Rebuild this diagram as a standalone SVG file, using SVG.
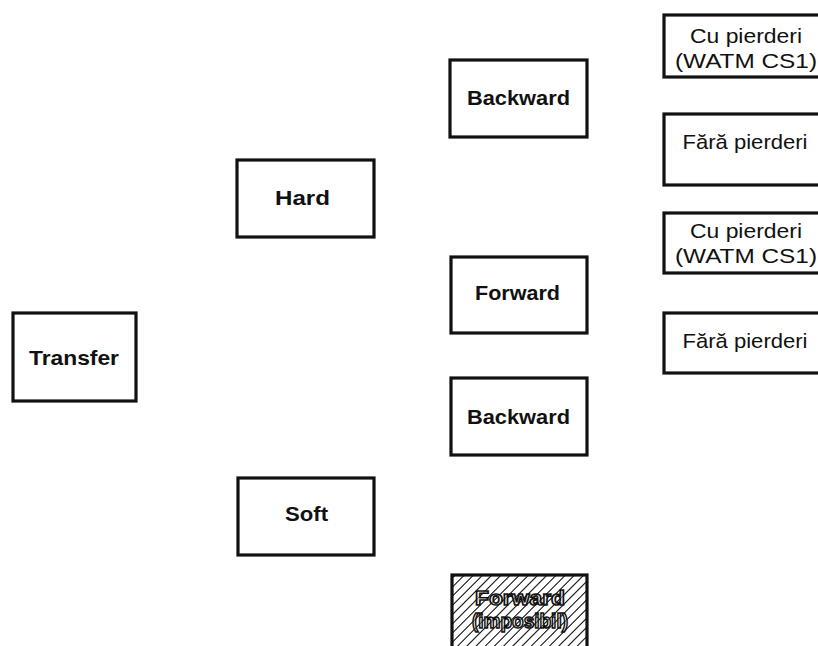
<svg xmlns="http://www.w3.org/2000/svg" width="818" height="646" viewBox="0 0 818 646">
  <defs>
    <pattern id="hatch" patternUnits="userSpaceOnUse" width="6.5" height="6.5" patternTransform="rotate(45)">
      <rect width="6.5" height="6.5" fill="#fff"/>
      <line x1="0" y1="0" x2="0" y2="6.5" stroke="#111" stroke-width="1.6"/>
    </pattern>
    <pattern id="hatch-over" patternUnits="userSpaceOnUse" width="6.5" height="6.5" patternTransform="rotate(45)">
      <line x1="0" y1="0" x2="0" y2="6.5" stroke="#111" stroke-width="1.2"/>
    </pattern>
  </defs>
  <style>
    .box { fill: #fff; stroke: #111; stroke-width: 3.2; }
    .lbl { font-family: "Liberation Sans", Arial, sans-serif; font-weight: bold; font-size: 21px; fill: #111; text-anchor: middle; }
    .leaf { font-family: "Liberation Sans", Arial, sans-serif; font-size: 21px; fill: #111; text-anchor: middle; }
    .hatched { fill: url(#hatch); stroke: #111; stroke-width: 3.2; }
    .ghost { font-family: "Liberation Sans", Arial, sans-serif; font-weight: bold; font-size: 21px; fill: #fff; stroke: #111; stroke-width: 1.6; text-anchor: middle; }
  </style>
  <rect width="818" height="646" fill="#fff"/>

  <g id="transfer">
    <rect class="box" x="13" y="313" width="123" height="88"/>
    <text class="lbl" x="74" y="365" textLength="90" lengthAdjust="spacingAndGlyphs">Transfer</text>
  </g>

  <g id="hard">
    <rect class="box" x="237" y="160" width="137" height="77"/>
    <text class="lbl" x="302.5" y="205" textLength="55" lengthAdjust="spacingAndGlyphs">Hard</text>
  </g>

  <g id="soft">
    <rect class="box" x="238" y="478" width="136" height="77"/>
    <text class="lbl" x="306.5" y="521" textLength="43" lengthAdjust="spacingAndGlyphs">Soft</text>
  </g>

  <g id="hard-backward">
    <rect class="box" x="450" y="60" width="137" height="77"/>
    <text class="lbl" x="518.5" y="105" textLength="103" lengthAdjust="spacingAndGlyphs">Backward</text>
  </g>

  <g id="hard-forward">
    <rect class="box" x="451" y="257" width="136" height="76"/>
    <text class="lbl" x="517.5" y="300" textLength="85" lengthAdjust="spacingAndGlyphs">Forward</text>
  </g>

  <g id="soft-backward">
    <rect class="box" x="451" y="378" width="136" height="77"/>
    <text class="lbl" x="518.5" y="424" textLength="103" lengthAdjust="spacingAndGlyphs">Backward</text>
  </g>

  <g id="soft-forward">
    <rect class="hatched" x="452" y="575" width="135" height="80"/>
    <text class="ghost" x="520" y="605" textLength="90" lengthAdjust="spacingAndGlyphs">Forward</text>
    <text class="ghost" x="520" y="628" textLength="96" lengthAdjust="spacingAndGlyphs">(imposibil)</text>
    <rect x="452" y="575" width="135" height="80" fill="url(#hatch-over)"/>
  </g>

  <g id="backward-lossy">
    <rect class="box" x="664" y="15" width="170" height="62"/>
    <text class="leaf" x="746" y="43" textLength="112" lengthAdjust="spacingAndGlyphs">Cu pierderi</text>
    <text class="leaf" x="746" y="68" textLength="142" lengthAdjust="spacingAndGlyphs">(WATM CS1)</text>
  </g>

  <g id="backward-lossless">
    <rect class="box" x="664" y="114" width="170" height="71"/>
    <text class="leaf" x="745" y="149" textLength="125" lengthAdjust="spacingAndGlyphs">Fără pierderi</text>
  </g>

  <g id="forward-lossy">
    <rect class="box" x="664" y="213" width="170" height="60"/>
    <text class="leaf" x="746" y="238" textLength="112" lengthAdjust="spacingAndGlyphs">Cu pierderi</text>
    <text class="leaf" x="746" y="263" textLength="142" lengthAdjust="spacingAndGlyphs">(WATM CS1)</text>
  </g>

  <g id="forward-lossless">
    <rect class="box" x="664" y="313" width="170" height="60"/>
    <text class="leaf" x="745" y="348" textLength="125" lengthAdjust="spacingAndGlyphs">Fără pierderi</text>
  </g>

  <g id="connectors"></g>
</svg>
